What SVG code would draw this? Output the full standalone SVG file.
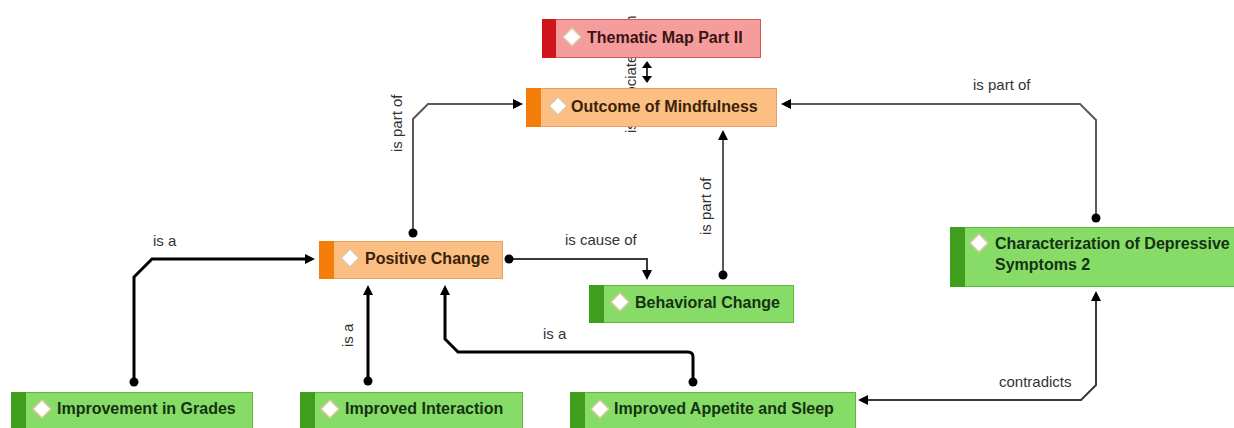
<svg xmlns="http://www.w3.org/2000/svg" width="1234" height="428" viewBox="0 0 1234 428">
<style>
.nt{font-family:"Liberation Sans",Arial,sans-serif;font-size:16px;font-weight:bold;}
.lb{font-family:"Liberation Sans",Arial,sans-serif;font-size:15px;fill:#333;}
.red{fill:#f59c9c;stroke:#d25a5a;stroke-width:1;}
.redbar{fill:#d0141c;}
.org{fill:#fbbf84;stroke:#e7a060;stroke-width:1;}
.orgbar{fill:#f57e0a;}
.grn{fill:#86dc66;stroke:#5eb83e;stroke-width:1;}
.grnbar{fill:#3f9e1c;}
.dia{fill:#ffffff;stroke:#d8c9a0;stroke-width:1.5;}
.thin{fill:none;stroke:#3a3a3a;stroke-width:2;}
.gray{fill:none;stroke:#5a5a5a;stroke-width:2;}
.thick{fill:none;stroke:#000;stroke-width:3;}
</style>
<defs>
<marker id="arr" markerUnits="userSpaceOnUse" viewBox="0 0 10 10" refX="0" refY="5" markerWidth="10" markerHeight="10" orient="auto-start-reverse"><path d="M0,0 L10,5 L0,10 z" fill="#000"/></marker>
<marker id="arrS" markerUnits="userSpaceOnUse" viewBox="0 0 7 10" refX="0" refY="5" markerWidth="7" markerHeight="10" orient="auto-start-reverse"><path d="M0,0 L7,5 L0,10 z" fill="#000"/></marker>
<marker id="dot" markerUnits="userSpaceOnUse" viewBox="0 0 10 10" refX="5" refY="5" markerWidth="10" markerHeight="10"><circle cx="5" cy="5" r="4.5" fill="#000"/></marker>
</defs>
<rect width="1234" height="428" fill="#ffffff"/>

<g id="connectors">
<text class="lb" transform="translate(636,133) rotate(-90)">is associated with</text>
<path class="thin" d="M647,68 V76" marker-start="url(#arrS)" marker-end="url(#arrS)"/>
<path class="gray" d="M413,233 V119 L428,104 H513" marker-start="url(#dot)" marker-end="url(#arr)"/>
<text class="lb" transform="translate(402,152) rotate(-90)">is part of</text>
<path class="gray" d="M1096,218 V120 L1080,104 H791" marker-start="url(#dot)" marker-end="url(#arr)"/>
<text class="lb" x="973" y="90">is part of</text>
<path class="gray" d="M723,275 V140" marker-start="url(#dot)" marker-end="url(#arr)"/>
<text class="lb" transform="translate(711,235) rotate(-90)">is part of</text>
<path class="thin" d="M509,259 H647 V270" marker-start="url(#dot)" marker-end="url(#arr)"/>
<text class="lb" x="565" y="245">is cause of</text>
<path class="thick" d="M134,382 V277 L152,259 H305" marker-start="url(#dot)" marker-end="url(#arr)"/>
<text class="lb" x="153" y="246">is a</text>
<path class="thick" d="M368,381 V295" marker-start="url(#dot)" marker-end="url(#arr)"/>
<text class="lb" transform="translate(353,347) rotate(-90)">is a</text>
<path class="thick" d="M693,382 V357 Q693,352 688,352 H458 L445,339 V295" marker-start="url(#dot)" marker-end="url(#arr)"/>
<text class="lb" x="543" y="339">is a</text>
<path class="thin" d="M1096,301 V385 L1081,400 H868" marker-start="url(#arr)" marker-end="url(#arr)"/>
<text class="lb" x="999" y="387">contradicts</text>
</g>

<g id="thematic-map">
<rect class="red" x="542.5" y="19.5" width="218" height="38"/>
<rect class="redbar" x="542" y="19" width="14" height="39"/>
<path class="dia" d="M563,37 L572,28 L581,37 L572,46 Z"/>
<text class="nt" x="587" y="43" fill="#3a1414">Thematic Map Part II</text>
</g>

<g id="outcome">
<rect class="org" x="526.5" y="88.5" width="250" height="38"/>
<rect class="orgbar" x="526" y="88" width="15" height="39"/>
<path class="dia" d="M549,106 L558,97 L567,106 L558,115 Z"/>
<text class="nt" x="571" y="112" fill="#3a2208">Outcome of Mindfulness</text>
</g>

<g id="positive-change">
<rect class="org" x="319.5" y="241.5" width="183" height="37"/>
<rect class="orgbar" x="319" y="241" width="15" height="38"/>
<path class="dia" d="M341,258 L350,249 L359,258 L350,267 Z"/>
<text class="nt" x="365" y="264" fill="#3a2208">Positive Change</text>
</g>

<g id="behavioral-change">
<rect class="grn" x="589.5" y="285.5" width="204" height="37"/>
<rect class="grnbar" x="589" y="285" width="15" height="38"/>
<path class="dia" d="M611,302 L620,293 L629,302 L620,311 Z"/>
<text class="nt" x="635" y="308" fill="#143214">Behavioral Change</text>
</g>

<g id="characterization">
<rect class="grn" x="950.5" y="227.5" width="300" height="59"/>
<rect class="grnbar" x="950" y="227" width="15" height="60"/>
<path class="dia" d="M970,243 L979,234 L988,243 L979,252 Z"/>
<text class="nt" x="995" y="249" fill="#143214">Characterization of Depressive</text>
<text class="nt" x="995" y="270" fill="#143214">Symptoms 2</text>
</g>

<g id="improvement-grades">
<rect class="grn" x="11.5" y="392.5" width="241" height="40"/>
<rect class="grnbar" x="11" y="392" width="15" height="41"/>
<path class="dia" d="M33,409 L42,400 L51,409 L42,418 Z"/>
<text class="nt" x="57" y="414" fill="#143214">Improvement in Grades</text>
</g>

<g id="improved-interaction">
<rect class="grn" x="300.5" y="392.5" width="222" height="40"/>
<rect class="grnbar" x="300" y="392" width="15" height="41"/>
<path class="dia" d="M321,409 L330,400 L339,409 L330,418 Z"/>
<text class="nt" x="345" y="414" fill="#143214">Improved Interaction</text>
</g>

<g id="improved-appetite">
<rect class="grn" x="570.5" y="392.5" width="285" height="40"/>
<rect class="grnbar" x="570" y="392" width="15" height="41"/>
<path class="dia" d="M591,409 L600,400 L609,409 L600,418 Z"/>
<text class="nt" x="614" y="414" fill="#143214">Improved Appetite and Sleep</text>
</g>
</svg>
